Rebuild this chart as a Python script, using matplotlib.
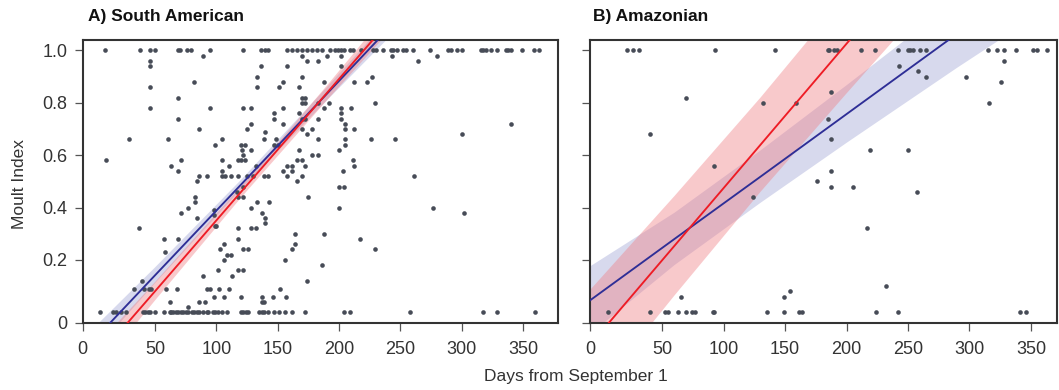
import matplotlib
matplotlib.use("Agg")
import matplotlib.pyplot as plt
import numpy as np

plt.rcParams['font.family'] = ['Liberation Sans', 'DejaVu Sans']

# ---------------- Panel A: South American ----------------
sa_top_days = [9, 38, 46, 50, 69, 70, 76, 79, 95, 122, 136, 140, 142, 158, 162, 166, 170, 174,
               178, 182, 186, 193, 197, 199, 202, 204, 209, 211, 218, 228, 230, 236, 242, 244,
               247, 252, 255, 260, 274, 289, 291, 296, 300, 316, 317, 320, 324, 329, 336, 338,
               340, 349, 359, 363]
sa_zero_days = [5, 16, 18, 22, 26, 40, 42, 44, 46, 50, 57, 62, 63, 65, 67, 69, 71, 73, 75, 77,
                80, 82, 84, 86, 89, 92, 93, 97, 99, 101, 105, 109, 120, 122, 124, 126, 135, 137,
                139, 142, 147, 151, 156, 162, 172, 204, 209, 258, 317, 329, 360]
sa_mid_days = [89, 46, 46, 46, 46, 170, 174, 183, 136, 158, 133, 170, 82, 154, 133, 151, 167,
               69, 170, 172, 170, 172, 95, 122, 128, 154, 183, 69, 147, 147, 167, 170, 172, 183,
               128, 154, 170, 125, 86, 140, 178, 29, 61, 105, 139, 149, 174, 183, 99, 120, 123,
               147, 150, 121, 128, 167, 10, 71, 105, 118, 120, 123, 122, 166, 170, 178, 183, 63,
               69, 105, 110, 105, 107, 112, 118, 125, 132, 130, 139, 142, 154, 158, 162, 158, 162,
               166, 170, 172, 86, 92, 84, 117, 122, 118, 122, 83, 83, 77, 71, 84, 98, 98, 99, 100,
               128, 133, 143, 137, 140, 140, 175, 37, 118, 128, 132, 57, 69, 118, 164, 164, 162,
               58, 106, 103, 122, 126, 109, 112, 106, 101, 118, 122, 156, 113, 89, 186, 39, 33, 41,
               45, 47, 59, 68, 92, 95, 102, 110, 152, 174, 62, 77, 86, 91, 98, 106, 120, 137, 137,
               139, 146, 157,
               190, 202, 243, 280, 202, 264, 188, 212, 223, 227, 192, 229, 188, 210, 202, 202, 202,
               205, 205, 212, 340, 300, 205, 205, 226, 246, 200, 211, 212, 203, 200, 204, 261, 200,
               277, 302, 188, 217, 229]
sa_mid_moult = [0.98, 0.96, 0.94, 0.86, 0.78, 0.98, 0.96, 0.96, 0.94, 0.94, 0.90, 0.90, 0.88,
                0.88, 0.86, 0.86, 0.86, 0.82, 0.82, 0.82, 0.80, 0.80, 0.78, 0.78, 0.78, 0.78, 0.80,
                0.74, 0.76, 0.74, 0.76, 0.74, 0.74, 0.74, 0.72, 0.72, 0.70, 0.70, 0.70, 0.69, 0.70,
                0.66, 0.66, 0.66, 0.66, 0.66, 0.68, 0.66, 0.64, 0.64, 0.64, 0.64, 0.64, 0.62, 0.62,
                0.62, 0.58, 0.58, 0.58, 0.58, 0.58, 0.58, 0.60, 0.58, 0.58, 0.60, 0.60, 0.56, 0.54,
                0.54, 0.56, 0.52, 0.52, 0.52, 0.52, 0.52, 0.56, 0.52, 0.52, 0.52, 0.54, 0.56, 0.56,
                0.52, 0.54, 0.50, 0.52, 0.56, 0.52, 0.52, 0.50, 0.46, 0.48, 0.44, 0.44, 0.44, 0.42,
                0.40, 0.38, 0.36, 0.39, 0.37, 0.33, 0.33, 0.40, 0.42, 0.42, 0.38, 0.36, 0.34, 0.44,
                0.32, 0.32, 0.32, 0.32, 0.28, 0.28, 0.28, 0.30, 0.26, 0.24, 0.23, 0.26, 0.24, 0.24,
                0.24, 0.22, 0.22, 0.20, 0.16, 0.16, 0.16, 0.20, 0.14, 0.14, 0.18, 0.12, 0.09, 0.09,
                0.09, 0.09, 0.09, 0.09, 0.09, 0.09, 0.09, 0.09, 0.09, 0.12, 0.04, 0.02, 0.04, 0.04,
                0.06, 0.06, 0.06, 0.06, 0.04, 0.04, 0.06, 0.06,
                0.98, 0.98, 0.98, 0.98, 0.94, 0.96, 0.88, 0.88, 0.88, 0.90, 0.80, 0.80, 0.78, 0.78,
                0.78, 0.76, 0.74, 0.72, 0.70, 0.70, 0.72, 0.68, 0.66, 0.64, 0.66, 0.66, 0.62, 0.58,
                0.56, 0.54, 0.48, 0.48, 0.52, 0.40, 0.40, 0.38, 0.30, 0.28, 0.24]

# fitted lines and confidence bands (values read at anchor days)
fit_days = [-10, 50, 120, 190, 260, 380]
sa_blue_fit = [-0.157, 0.141, 0.487, 0.834, 1.181, 1.776]
sa_blue_hw = [0.05, 0.03, 0.018, 0.025, 0.04, 0.07]
sa_red_fit = [-0.244, 0.080, 0.459, 0.837, 1.216, 1.865]
sa_red_hw = [0.055, 0.035, 0.022, 0.028, 0.045, 0.075]

# ---------------- Panel B: Amazonian ----------------
am_top_days = [21, 26, 31, 93, 142, 185, 186, 190, 192, 212, 223, 242, 250, 252, 254, 260, 265,
               315, 322, 328, 338, 352, 355, 363]
am_zero_days = [6, 40, 52, 55, 63, 69, 74, 77, 91, 92, 135, 149, 161, 164, 224, 242, 341, 346]
am_mid_days = [243, 258, 265, 297, 328, 326, 316, 69, 187, 132, 159, 185, 40, 187, 219, 250, 92,
               187, 176, 187, 205, 257, 124, 217, 232, 65, 149, 154]
am_mid_moult = [0.94, 0.92, 0.90, 0.90, 0.96, 0.88, 0.80, 0.82, 0.84, 0.80, 0.80, 0.74, 0.68,
                0.66, 0.62, 0.62, 0.56, 0.54, 0.50, 0.48, 0.48, 0.46, 0.44, 0.32, 0.10, 0.06,
                0.06, 0.08]

am_fit_days = [-10, 60, 130, 200, 290, 380]
am_blue_fit = [0.041, 0.280, 0.518, 0.757, 1.064, 1.371]
am_blue_hw = [0.13, 0.10, 0.10, 0.11, 0.13, 0.16]
am_red_fit = [-0.132, 0.254, 0.640, 1.026, 1.522, 2.019]
am_red_hw = [0.21, 0.19, 0.18, 0.19, 0.21, 0.24]

x_tick_labels = ['0', '50', '100', '150', '200', '250', '300', '350']
y_tick_labels = ['0', '0.2', '0.4', '0.6', '0.8', '1.0']

W, H = 1059, 390
fig = plt.figure(figsize=(W / 100, H / 100), dpi=100)

def box(l, r, t, b):
    return [l / W, 1 - b / H, (r - l) / W, (b - t) / H]

axA = fig.add_axes(box(82.5, 558, 40, 322.7))
axB = fig.add_axes(box(590.3, 1057, 40, 322.7))

dot_col = '#474c57'
blue = '#2e2e96'
red = '#ee1c25'
blue_band = '#a7abd8'
red_band = '#f07f85'
text_col = '#333333'

def draw(ax, top, zero, mdays, mmoult, fx, bfit, bhw, rfit, rhw, xlim, show_y):
    fx = np.array(fx)
    bfit, bhw = np.array(bfit), np.array(bhw)
    rfit, rhw = np.array(rfit), np.array(rhw)
    ax.fill_between(fx, bfit - bhw, bfit + bhw, color=blue_band, alpha=0.45, lw=0, zorder=1)
    ax.fill_between(fx, rfit - rhw, rfit + rhw, color=red_band, alpha=0.42, lw=0, zorder=1)
    days = list(top) + list(zero) + list(mdays)
    moult = [1.0] * len(top) + [0.0] * len(zero) + list(mmoult)
    ax.scatter(days, moult, s=11, color=dot_col, lw=0, zorder=3)
    ax.plot(fx, bfit, color=blue, lw=1.35, zorder=4)
    ax.plot(fx, rfit, color=red, lw=1.35, zorder=4)
    ax.set_xlim(*xlim)
    ax.set_ylim(-0.04, 1.04)
    xt = [xlim[0], 50, 100, 150, 200, 250, 300, 350]
    ax.set_xticks(xt)
    ax.set_xticklabels(x_tick_labels)
    yt = [-0.04, 0.2, 0.4, 0.6, 0.8, 1.0]
    ax.set_yticks(yt)
    if show_y:
        ax.set_yticklabels(y_tick_labels)
    else:
        ax.set_yticklabels([])
    ax.tick_params(direction='out', length=6, width=0.9, colors='#555555',
                   labelcolor=text_col, labelsize=13, pad=5)
    ax.tick_params(axis='x', pad=7)
    for s in ax.spines.values():
        s.set_color('#333333')
        s.set_linewidth(1.5)

draw(axA, sa_top_days, sa_zero_days, sa_mid_days, sa_mid_moult, fit_days,
     sa_blue_fit, sa_blue_hw, sa_red_fit, sa_red_hw, (-9.1, 378.5), True)
draw(axB, am_top_days, am_zero_days, am_mid_days, am_mid_moult, am_fit_days,
     am_blue_fit, am_blue_hw, am_red_fit, am_red_hw, (-8.5, 371.2), False)

fig.text(88 / W, 1 - 16 / H, 'A) South American', fontsize=12.5, weight='bold',
         ha='left', va='center', color='#111111')
fig.text(593 / W, 1 - 16 / H, 'B) Amazonian', fontsize=12.5, weight='bold',
         ha='left', va='center', color='#111111')
fig.text(20 / W, 1 - 184 / H, 'Moult Index', fontsize=12.5, rotation=90,
         ha='center', va='center', color=text_col)
fig.text(576 / W, 1 - 377 / H, 'Days from September 1', fontsize=12.5,
         ha='center', va='center', color=text_col)

fig.savefig('out.png', dpi=100)
